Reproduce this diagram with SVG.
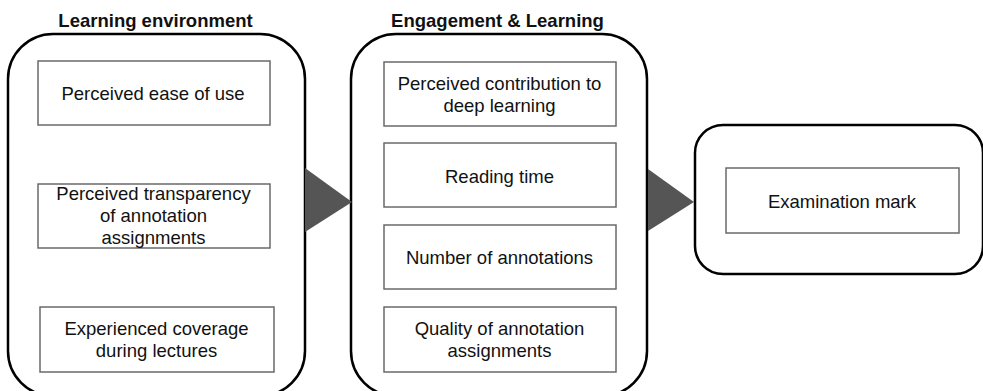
<svg xmlns="http://www.w3.org/2000/svg" width="983" height="391" viewBox="0 0 983 391">
<style>
.cont{fill:#fff;stroke:#000;stroke-width:2.5}
.box{fill:#fff;stroke:#6a6a6a;stroke-width:1.5}
.t{font-family:"Liberation Sans",Arial,sans-serif;font-size:18.5px;fill:#111;text-anchor:middle}
.h{font-family:"Liberation Sans",Arial,sans-serif;font-size:18.5px;font-weight:bold;fill:#111;text-anchor:middle}
.arr{fill:#555}
</style>
<rect width="983" height="391" fill="#fff"/>
<g id="learning-environment">
<text class="h" x="155.5" y="27">Learning environment</text>
<rect class="cont" x="8" y="34" width="297" height="362" rx="45"/>
</g>
<g id="engagement-learning">
<text class="h" x="497.5" y="27">Engagement &amp; Learning</text>
<rect class="cont" x="351" y="34" width="296" height="362" rx="45"/>
</g>
<g id="outcome">
<rect class="cont" x="695" y="125" width="288" height="149" rx="28"/>
</g>
<g id="perceived-ease">
<rect class="box" x="38" y="61" width="232" height="64"/>
<text class="t" x="153" y="100">Perceived ease of use</text>
</g>
<g id="perceived-transparency">
<rect class="box" x="38" y="184" width="232" height="64"/>
<text class="t" x="153.5" y="200">Perceived transparency</text>
<text class="t" x="153.5" y="222">of annotation</text>
<text class="t" x="153.5" y="244">assignments</text>
</g>
<g id="experienced-coverage">
<rect class="box" x="40" y="307" width="234" height="65"/>
<text class="t" x="156.5" y="335">Experienced coverage</text>
<text class="t" x="156.5" y="357">during lectures</text>
</g>
<g id="contribution-deep-learning">
<rect class="box" x="384" y="62" width="232" height="64"/>
<text class="t" x="499.5" y="90">Perceived contribution to</text>
<text class="t" x="499.5" y="112">deep learning</text>
</g>
<g id="reading-time">
<rect class="box" x="384" y="143" width="232" height="64"/>
<text class="t" x="499.5" y="183">Reading time</text>
</g>
<g id="number-annotations">
<rect class="box" x="384" y="225" width="232" height="64"/>
<text class="t" x="499.5" y="264">Number of annotations</text>
</g>
<g id="quality-annotation">
<rect class="box" x="384" y="307" width="232" height="65"/>
<text class="t" x="499.5" y="335">Quality of annotation</text>
<text class="t" x="499.5" y="357">assignments</text>
</g>
<g id="examination-mark">
<rect class="box" x="726" y="168" width="233" height="65"/>
<text class="t" x="842" y="208">Examination mark</text>
</g>
<g id="connectors">
<polygon class="arr" points="305,168 352,202 305,232"/>
<polygon class="arr" points="648,169 694,202 648,231"/>
</g>
</svg>
